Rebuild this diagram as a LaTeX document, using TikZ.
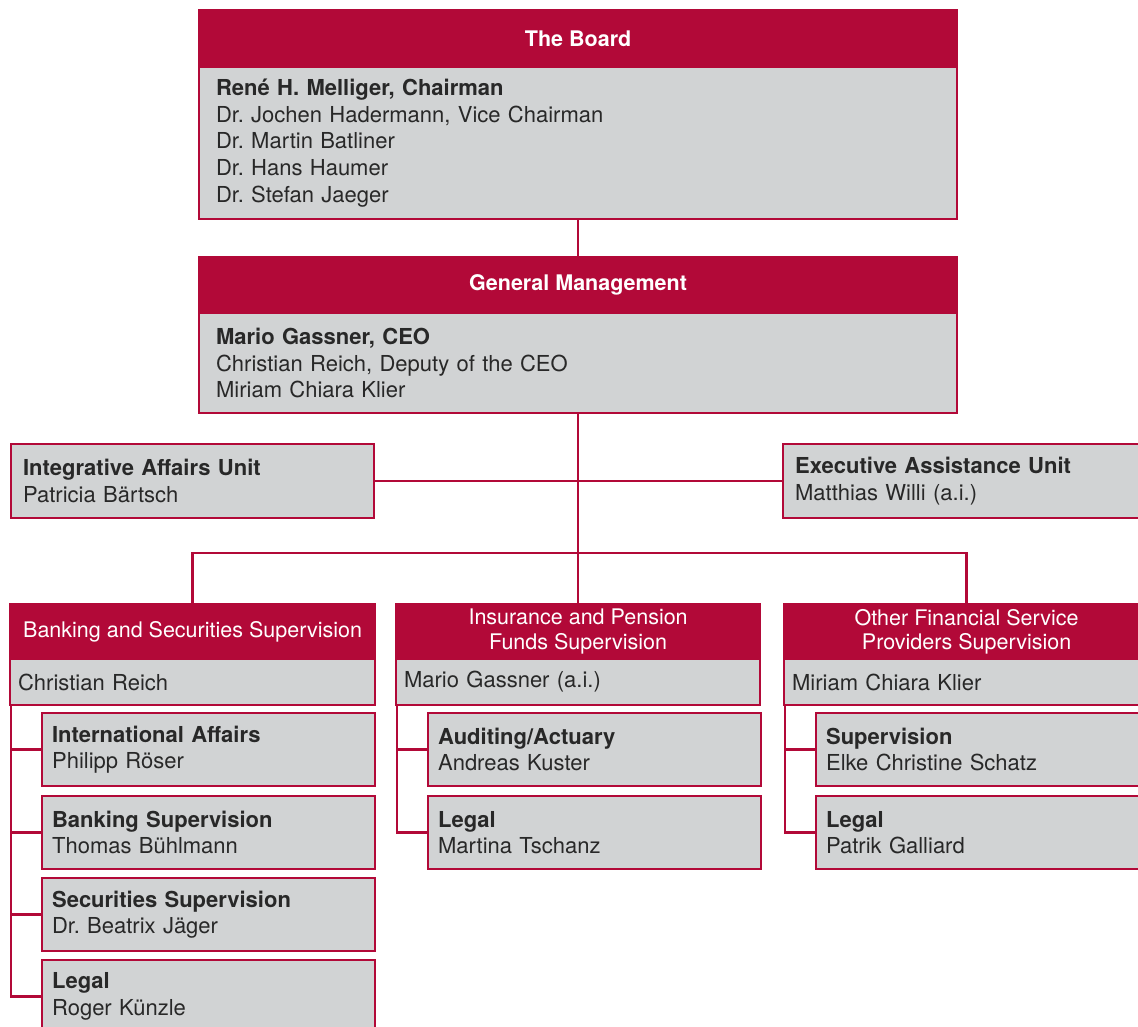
\documentclass[tikz,border=0pt]{standalone}
\usepackage{fontspec}
\setmainfont{TeX Gyre Heros}
\frenchspacing
\definecolor{fsred}{RGB}{178,9,56}
\definecolor{fsgray}{RGB}{209,211,212}
\definecolor{fstext}{RGB}{40,40,40}

\begin{document}
\begin{tikzpicture}[x=1pt,y=-1pt,
  head/.style={anchor=north west,fill=fsred,draw=fsred,line width=2.2pt,text=white,
    align=center,inner sep=0pt,font=\fontsize{21.5}{24.5}\selectfont},
  box/.style={anchor=north west,fill=fsgray,draw=fsred,line width=2.2pt,text=fstext,
    align=left,inner ysep=0pt,font=\fontsize{22}{26.7}\selectfont},
  link/.style={draw=fsred,line width=2.4pt}]
  \useasboundingbox (0,0) rectangle (1138,1027);
  \clip (0,0) rectangle (1138,1027);
  % The board.
  \node[head,minimum width=758,minimum height=57] (board) at (198,9) {\bfseries The Board};
  \node[box,minimum width=758,minimum height=152,text width=724,inner xsep=17] (boardm) at (198,66)
    {{\bfseries René H. Melliger, Chairman}\\Dr. Jochen Hadermann, Vice Chairman\\Dr. Martin Batliner\\Dr. Hans Haumer\\Dr. Stefan Jaeger};
  % The general management.
  \node[head,minimum width=758,minimum height=56] (gm) at (198,256) {\bfseries General Management};
  \node[box,minimum width=758,minimum height=100,text width=724,inner xsep=17] (gmm) at (198,312)
    {{\bfseries Mario Gassner, CEO}\\Christian Reich, Deputy of the CEO\\Miriam Chiara Klier};
  \draw[link] (boardm) -- (gm);
  % The staff units.
  \node[box,minimum width=363,minimum height=74,text width=339,inner xsep=12] (iau) at (10,443)
    {{\bfseries Integrative Affairs Unit}\\Patricia Bärtsch};
  \node[box,minimum width=363,minimum height=74,text width=339,inner xsep=12] (eau) at (782,443)
    {{\bfseries Executive Assistance Unit}\\Matthias Willi (a.i.)};
  % The divisions.
  \node[head,minimum width=365,minimum height=55] (bss) at (9,603) {Banking and Securities Supervision};
  \node[box,minimum width=365,minimum height=46,text width=349,inner xsep=8] (bssm) at (9,658) {Christian Reich};
  \node[head,minimum width=364,minimum height=55] (ips) at (395,603) {Insurance and Pension\\Funds Supervision};
  \node[box,minimum width=364,minimum height=46,text width=348,inner xsep=8] (ipsm) at (395,658) {Mario Gassner (a.i.)};
  \node[head,minimum width=365,minimum height=55] (ofs) at (783,603) {Other Financial Service\\Providers Supervision};
  \node[box,minimum width=365,minimum height=46,text width=349,inner xsep=8] (ofsm) at (783,658) {Miriam Chiara Klier};
  \draw[link] (gmm) -- (ips);
  \draw[link] (iau.east) -- (eau.west);
  \coordinate (fork) at (577,553);
  \draw[link] (bss.north) |- (fork) -| (ofs.north);
  % The sections.
  \tikzset{sub/.style={box,minimum width=333,minimum height=73,text width=313,inner xsep=10}}
  \node[sub] (bssa) at (41,712) {{\bfseries International Affairs}\\Philipp Röser};
  \node[sub] (bssb) at (41,795) {{\bfseries Banking Supervision}\\Thomas Bühlmann};
  \node[sub] (bssc) at (41,877) {{\bfseries Securities Supervision}\\Dr. Beatrix Jäger};
  \node[sub] (bssd) at (41,959) {{\bfseries Legal}\\Roger Künzle};
  \node[sub,minimum width=332] (ipsa) at (427,712) {{\bfseries Auditing/Actuary}\\Andreas Kuster};
  \node[sub,minimum width=332] (ipsb) at (427,795) {{\bfseries Legal}\\Martina Tschanz};
  \node[sub] (ofsa) at (815,712) {{\bfseries Supervision}\\Elke Christine Schatz};
  \node[sub] (ofsb) at (815,795) {{\bfseries Legal}\\Patrik Galliard};
  \foreach \s in {bssa,bssb,bssc,bssd} \draw[link] ([xshift=2]bssm.south west) |- (\s.west);
  \foreach \s in {ipsa,ipsb} \draw[link] ([xshift=2]ipsm.south west) |- (\s.west);
  \foreach \s in {ofsa,ofsb} \draw[link] ([xshift=2]ofsm.south west) |- (\s.west);
\end{tikzpicture}
\end{document}
